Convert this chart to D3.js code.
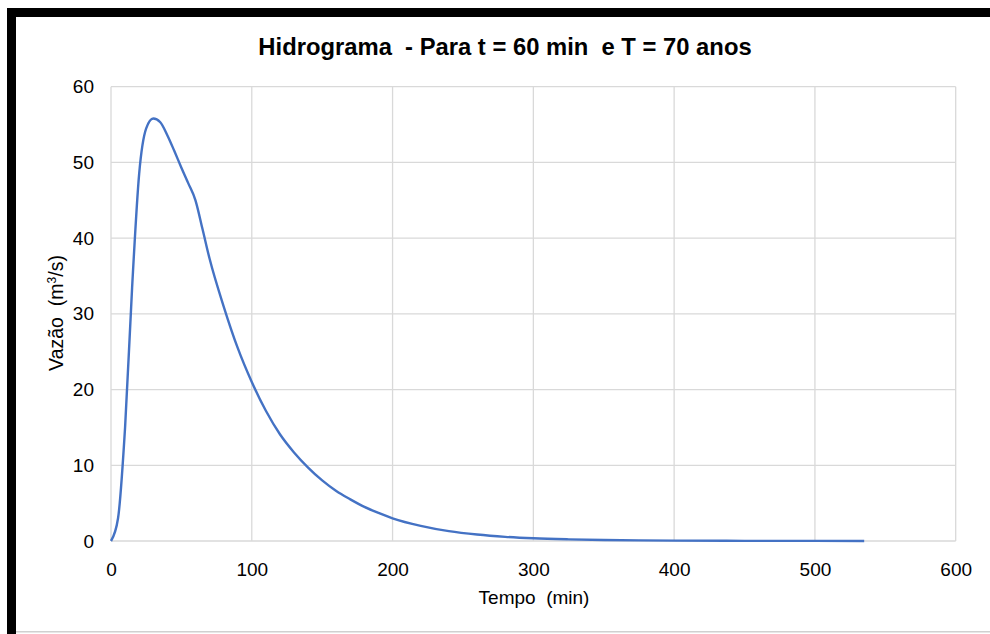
<!DOCTYPE html>
<html>
<head>
<meta charset="utf-8">
<script src="https://cdn.jsdelivr.net/npm/d3@7"></script>
<style>
  html, body { margin: 0; padding: 0; background: #fff; }
  svg { display: block; }
  text { font-family: "Liberation Sans", Arial, sans-serif; }
</style>
</head>
<body>
<svg id="chart" width="990" height="634"></svg>
<script>
// ---- data ----
const tempo = [0, 5, 10, 15, 20, 25, 30, 35, 40, 45, 50, 55, 60, 65, 70, 80, 90, 100, 110, 120, 130,
               140, 150, 160, 170, 180, 190, 200, 220, 240, 260, 280, 300, 325, 350, 375, 400, 450, 500, 535];
const vazao = [0, 3.0, 15.0, 33.5, 48.5, 54.5, 55.8, 55.3, 53.6, 51.5, 49.3, 47.2, 45.0, 41.2, 37.3, 31.0, 25.5, 21.0, 17.2, 14.1, 11.7,
               9.7, 8.0, 6.6, 5.5, 4.5, 3.7, 3.0, 2.0, 1.3, 0.85, 0.55, 0.36, 0.22, 0.13, 0.08, 0.05, 0.02, 0.01, 0.0];
const xTicks = [0, 100, 200, 300, 400, 500, 600];
const yTicks = [0, 10, 20, 30, 40, 50, 60];
const titleText = "Hidrograma  - Para t = 60 min  e T = 70 anos";
const xLabel = "Tempo  (min)";

const svg = d3.select("#chart");

// frame (cropped chart with thick black border at top/left)
svg.append("rect").attr("x", 16).attr("y", 631).attr("width", 974).attr("height", 1.5).attr("fill", "#d0d0d0");
svg.append("rect").attr("x", 7).attr("y", 8).attr("width", 983).attr("height", 9).attr("fill", "#000");
svg.append("rect").attr("x", 7).attr("y", 8).attr("width", 9).attr("height", 626).attr("fill", "#000");

const x = d3.scaleLinear().domain([0, 600]).range([111, 955.7]);
const y = d3.scaleLinear().domain([0, 60]).range([541, 86.7]);

// gridlines
const g = svg.append("g");
g.selectAll(".vg").data(xTicks).join("line")
  .attr("x1", d => x(d)).attr("x2", d => x(d))
  .attr("y1", y(0)).attr("y2", y(60))
  .attr("stroke", "#d9d9d9").attr("stroke-width", 1.3);
g.selectAll(".hg").data(yTicks).join("line")
  .attr("x1", x(0)).attr("x2", x(600))
  .attr("y1", d => y(d)).attr("y2", d => y(d))
  .attr("stroke", "#d9d9d9").attr("stroke-width", 1.3);

// axes (labels only, via d3 axes)
const xAxis = svg.append("g").attr("transform", `translate(0,${y(0)})`)
  .call(d3.axisBottom(x).tickValues(xTicks).tickSize(0).tickPadding(22).tickFormat(d3.format("d")));
xAxis.select(".domain").remove();
xAxis.selectAll("text").attr("font-size", 19).attr("fill", "#000")
  .attr("font-family", "'Liberation Sans', Arial, sans-serif");

const yAxis = svg.append("g").attr("transform", `translate(${x(0)},0)`)
  .call(d3.axisLeft(y).tickValues(yTicks).tickSize(0).tickPadding(17).tickFormat(d3.format("d")));
yAxis.select(".domain").remove();
yAxis.selectAll("text").attr("font-size", 19).attr("fill", "#000")
  .attr("font-family", "'Liberation Sans', Arial, sans-serif");

// line
const line = d3.line()
  .x((d, i) => x(tempo[i]))
  .y(d => y(d))
  .curve(d3.curveMonotoneX);
svg.append("path").datum(vazao)
  .attr("d", line)
  .attr("fill", "none")
  .attr("stroke", "#4472C4")
  .attr("stroke-width", 2.4)
  .attr("stroke-linejoin", "round");

// title
svg.append("text").attr("x", 505).attr("y", 55)
  .attr("text-anchor", "middle").attr("font-size", 23.8).attr("font-weight", "bold")
  .style("white-space", "pre")
  .text(titleText);

// x label
svg.append("text").attr("x", 534).attr("y", 604)
  .attr("text-anchor", "middle").attr("font-size", 19)
  .style("white-space", "pre")
  .text(xLabel);

// y label
const yl = svg.append("text").attr("transform", "translate(63,313) rotate(-90)")
  .attr("text-anchor", "middle").attr("font-size", 19.5)
  .style("white-space", "pre");
yl.append("tspan").text("Vazão  (m");
yl.append("tspan").attr("dy", -7).attr("font-size", 12).text("3");
yl.append("tspan").attr("dy", 7).text("/s)");
</script>
</body>
</html>
